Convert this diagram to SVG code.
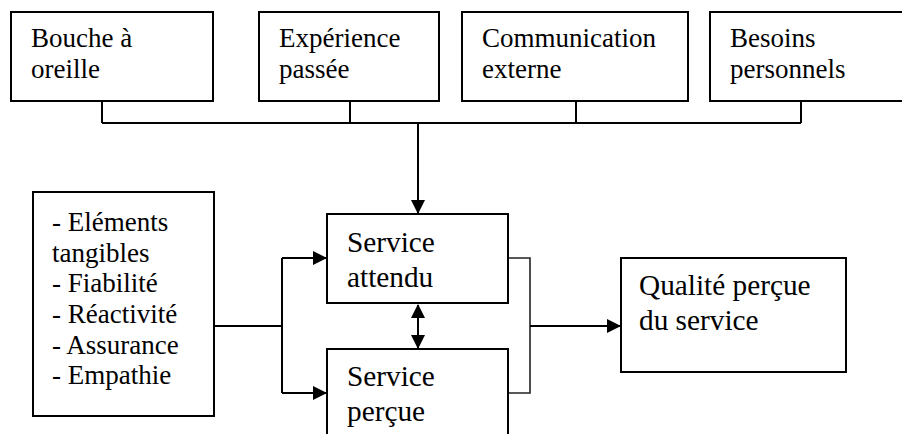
<svg xmlns="http://www.w3.org/2000/svg" width="902" height="434" viewBox="0 0 902 434">
  <style>
    .box { fill: #ffffff; stroke: #000000; stroke-width: 2; }
    text { font-family: 'Liberation Serif', 'Times New Roman', serif; fill: #000000; }
    .t27 { font-size: 27px; }
    .t29 { font-size: 29.3px; }
    .wire { fill: none; stroke: #000000; stroke-width: 2; }
    .thin { fill: none; stroke: #222222; stroke-width: 1.6; }
    .arrow { fill: none; stroke: #000000; stroke-width: 2; marker-end: url(#ah); }
    .darrow { fill: none; stroke: #000000; stroke-width: 2; marker-start: url(#ah); marker-end: url(#ah); }
  </style>
  <defs>
    <marker id="ah" viewBox="0 0 14 14" markerWidth="14" markerHeight="14" refX="13" refY="7" orient="auto-start-reverse" markerUnits="userSpaceOnUse">
      <path d="M0,0 L14,7 L0,14 z" fill="#000000"/>
    </marker>
  </defs>
  <rect width="902" height="434" fill="#ffffff"/>

  <g id="connectors">
    <path class="wire" d="M102,101 V123 M350,101 V123 M576,101 V123 M801,101 V123 M102,123 H801"/>
    <path class="arrow" d="M418,123 V213"/>
    <path class="wire" d="M214,326 H282 M282,258 V393"/>
    <path class="arrow" d="M282,258 H326"/>
    <path class="arrow" d="M282,393 H326"/>
    <path class="darrow" d="M418,305 V348"/>
    <path class="thin" d="M508,258 H530 V393 H508"/>
    <path class="arrow" d="M530,326 H620"/>
  </g>

  <g id="bouche">
    <rect class="box" x="11" y="12" width="202" height="89"/>
    <text class="t27" x="31" y="47">Bouche à</text>
    <text class="t27" x="31" y="78">oreille</text>
  </g>
  <g id="experience">
    <rect class="box" x="259" y="12" width="180" height="89"/>
    <text class="t27" x="279" y="47">Expérience</text>
    <text class="t27" x="279" y="78">passée</text>
  </g>
  <g id="communication">
    <rect class="box" x="462" y="12" width="226" height="89"/>
    <text class="t27" x="482" y="47">Communication</text>
    <text class="t27" x="482" y="78">externe</text>
  </g>
  <g id="besoins">
    <rect class="box" x="710" y="12" width="200" height="89"/>
    <text class="t27" x="730" y="47">Besoins</text>
    <text class="t27" x="730" y="78">personnels</text>
  </g>
  <g id="dimensions">
    <rect class="box" x="33" y="192" width="181" height="224"/>
    <text class="t27" x="52" y="231">- Eléments</text>
    <text class="t27" x="52" y="262">tangibles</text>
    <text class="t27" x="52" y="292">- Fiabilité</text>
    <text class="t27" x="52" y="323">- Réactivité</text>
    <text class="t27" x="52" y="354">- Assurance</text>
    <text class="t27" x="52" y="384">- Empathie</text>
  </g>
  <g id="attendu">
    <rect class="box" x="327" y="214" width="181" height="89"/>
    <text class="t29" x="347" y="252">Service</text>
    <text class="t29" x="347" y="287">attendu</text>
  </g>
  <g id="percue">
    <rect class="box" x="327" y="349" width="181" height="100"/>
    <text class="t29" x="347" y="386">Service</text>
    <text class="t29" x="347" y="421">perçue</text>
  </g>
  <g id="qualite">
    <rect class="box" x="621" y="258" width="225" height="114"/>
    <text class="t29" x="639" y="295">Qualité perçue</text>
    <text class="t29" x="639" y="330">du service</text>
  </g>
</svg>
